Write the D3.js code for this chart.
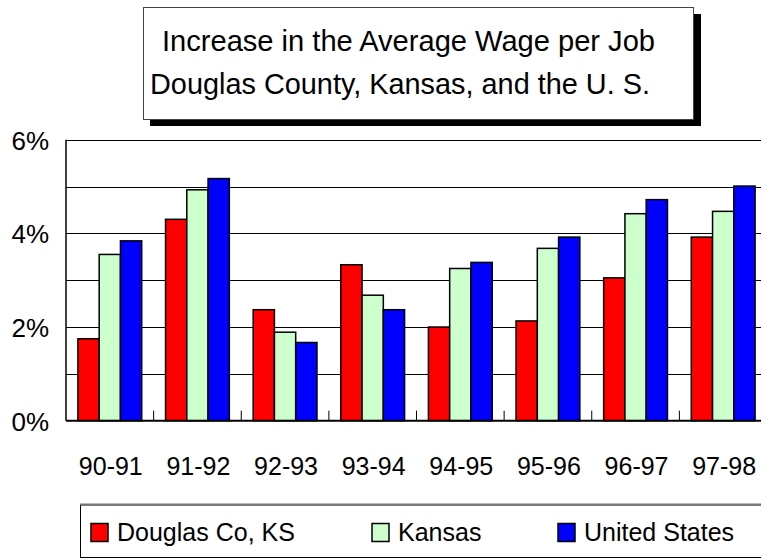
<!DOCTYPE html>
<html>
<head>
<meta charset="utf-8">
<script src="https://cdn.jsdelivr.net/npm/d3@7"></script>
<style>
  body { margin: 0; background: #fff; }
  text { font-family: "Liberation Sans", Arial, sans-serif; fill: #000; }
</style>
</head>
<body>
<svg id="chart"></svg>
<script>
var periods = ['90-91', '91-92', '92-93', '93-94', '94-95', '95-96', '96-97', '97-98']
var seriesNames = ['Douglas Co, KS', 'Kansas', 'United States']
var douglas = [1.75, 4.30, 2.37, 3.33, 2.00, 2.13, 3.05, 3.92]
var kansas = [3.55, 4.93, 1.89, 2.68, 3.25, 3.68, 4.42, 4.47]
var unitedStates = [3.84, 5.17, 1.67, 2.37, 3.38, 3.92, 4.72, 5.01]
var yTicks = [0, 2, 4, 6]
var titleLines = ['Increase in the Average Wage per Job', 'Douglas County, Kansas, and the U. S.']

var colors = ['#ff0000', '#ccffcc', '#0000ff']
var values = [douglas, kansas, unitedStates]

var width = 761, height = 560
var svg = d3.select('#chart').attr('width', width).attr('height', height)

var x0 = d3.scaleBand().domain(periods).range([66, 767]).padding(0)
var x1 = d3.scaleBand().domain(seriesNames).range([0, x0.bandwidth()])
    .paddingInner(0).paddingOuter(0.56)
var y = d3.scaleLinear().domain([0, 6]).range([420.7, 139.7])

// title box with shadow
svg.append('rect').attr('x', 150).attr('y', 14).attr('width', 551).attr('height', 112).attr('fill', '#000')
svg.append('rect').attr('x', 143.5).attr('y', 7.5).attr('width', 550).attr('height', 112)
    .attr('fill', '#fff').attr('stroke', '#444').attr('stroke-width', 1)
var titleX = [162, 150], titleW = [493, 500]
svg.selectAll('.title').data(titleLines).enter().append('text')
    .attr('x', (d, i) => titleX[i]).attr('y', (d, i) => 50.7 + i * 43.6)
    .attr('font-size', 29)
    .attr('textLength', (d, i) => titleW[i])
    .attr('lengthAdjust', 'spacingAndGlyphs')
    .text(d => d)

// gridlines
svg.selectAll('.grid').data(d3.range(1, 7)).enter().append('line')
    .attr('x1', 66).attr('x2', width)
    .attr('y1', d => Math.round(y(d)) + 0.5).attr('y2', d => Math.round(y(d)) + 0.5)
    .attr('stroke', '#000').attr('stroke-width', 1.2)

// bars
var groups = svg.selectAll('.grp').data(periods).enter().append('g')
    .attr('transform', d => 'translate(' + x0(d) + ',0)')
groups.selectAll('rect').data((d, i) => values.map((s, j) => ({ s: seriesNames[j], v: s[i], c: colors[j] })))
    .enter().append('rect')
    .attr('x', d => x1(d.s))
    .attr('y', d => y(d.v))
    .attr('width', x1.bandwidth())
    .attr('height', d => y(0) - y(d.v))
    .attr('fill', d => d.c)
    .attr('stroke', '#000').attr('stroke-width', 1.5)

// axes
svg.append('line').attr('x1', 66).attr('x2', 66).attr('y1', y(6)).attr('y2', y(0))
    .attr('stroke', '#000').attr('stroke-width', 1.5)
svg.append('line').attr('x1', 66).attr('x2', width).attr('y1', y(0)).attr('y2', y(0))
    .attr('stroke', '#000').attr('stroke-width', 2)
svg.selectAll('.tick').data(periods.slice(1)).enter().append('line')
    .attr('x1', d => x0(d)).attr('x2', d => x0(d))
    .attr('y1', y(0)).attr('y2', y(0) - 10)
    .attr('stroke', '#000').attr('stroke-width', 1)

svg.selectAll('.ylab').data(yTicks).enter().append('text')
    .attr('x', 49).attr('y', d => y(d) + 3)
    .attr('text-anchor', 'end').attr('dominant-baseline', 'middle')
    .attr('font-size', 26)
    .text(d => d + '%')

svg.selectAll('.xlab').data(periods).enter().append('text')
    .attr('x', d => x0(d) + x0.bandwidth() / 2 + 1).attr('y', 475)
    .attr('text-anchor', 'middle')
    .attr('font-size', 25)
    .text(d => d)

// legend
svg.append('rect').attr('x', 80.5).attr('y', 505).attr('width', 700).attr('height', 52.5)
    .attr('fill', '#fff').attr('stroke', '#000').attr('stroke-width', 1)
svg.append('line').attr('x1', 80).attr('x2', width).attr('y1', 504.5).attr('y2', 504.5)
    .attr('stroke', '#777').attr('stroke-width', 2)
var legendX = [91, 372, 558]
var leg = svg.selectAll('.leg').data(seriesNames).enter().append('g')
    .attr('transform', (d, i) => 'translate(' + legendX[i] + ',0)')
leg.append('rect').attr('x', 0).attr('y', 523.5).attr('width', 17).attr('height', 18)
    .attr('fill', (d, i) => colors[i]).attr('stroke', '#000').attr('stroke-width', 1.5)
leg.append('text').attr('x', 26).attr('y', 541)
    .attr('font-size', 25)
    .text(d => d)
</script>
</body>
</html>
